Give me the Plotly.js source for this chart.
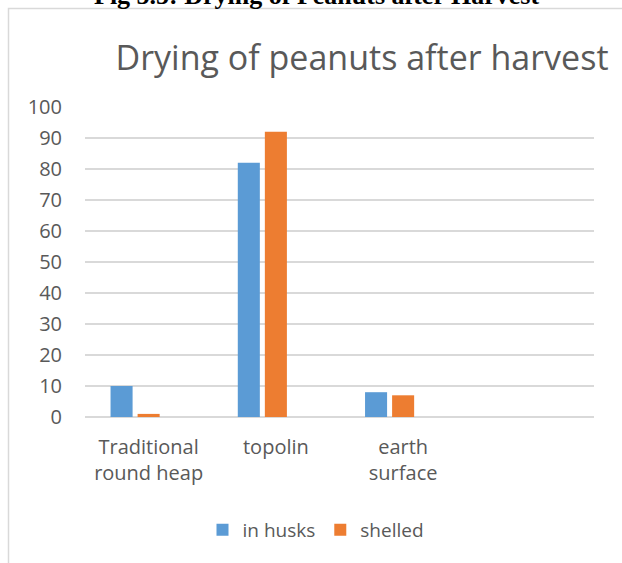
<!DOCTYPE html>
<html>
<head>
<meta charset="utf-8">
<script src="https://cdn.plot.ly/plotly-3.0.1.min.js"></script>
<style>html,body{margin:0;padding:0;background:#fff;}#chart{width:622px;height:563px;}</style>
</head>
<body>
<div id="chart"></div>
<script>
const categories = ["Traditional<br>round heap", "topolin", "earth<br>surface"];
const inHusks = [10, 82, 8];
const shelled = [1, 92, 7];
const emptySeries = [null, null, null];
const seriesNames = ["in husks", "shelled"];
const yTicks = [0, 10, 20, 30, 40, 50, 60, 70, 80, 90, 100];
const chartTitle = "Drying of peanuts after harvest";
const figCaption = "Fig 5.5: Drying of Peanuts after Harvest";

const W = 622, H = 563;
const L = 85, R = 594, T = 107, B = 417;
const pw = R - L, ph = B - T;
const px = x => (x - L) / pw;
const py = y => (B - y) / ph;

const font = {family: "Open Sans, sans-serif", color: "#595959", size: 19};

const traces = [
  {type: "bar", x: categories, y: inHusks, name: seriesNames[0], marker: {color: "#5b9bd5"}, hoverinfo: "none"},
  {type: "bar", x: categories, y: shelled, name: seriesNames[1], marker: {color: "#ed7d31"}, hoverinfo: "none"},
  {type: "bar", x: categories, y: emptySeries, name: "", showlegend: false, marker: {color: "#a5a5a5"}, hoverinfo: "none"}
];

const layout = {
  width: W, height: H,
  margin: {l: L, r: W - R, t: T, b: H - B, pad: 0, autoexpand: false},
  paper_bgcolor: "#fff", plot_bgcolor: "#fff",
  font: font,
  barmode: "group", bargap: 0.362, bargroupgap: 0.185,
  showlegend: true,
  title: {
    text: chartTitle,
    font: {family: "Open Sans, sans-serif", size: 34, color: "#595959"},
    x: 362 / W, xanchor: "center", xref: "container",
    y: 1 - 58 / H, yanchor: "middle", yref: "container"
  },
  xaxis: {
    type: "category", range: [-0.5, 3.5], fixedrange: true, automargin: false,
    showgrid: false, zeroline: false, showline: false, ticks: "", tickangle: 0,
    ticklabelstandoff: 16,
    tickfont: {family: "Open Sans, sans-serif", size: 20, color: "#595959"}
  },
  yaxis: {
    range: [0, 100], tickvals: yTicks, ticktext: yTicks.map(String), automargin: false,
    showgrid: true, gridcolor: "#d9d9d9", gridwidth: 1.5,
    zeroline: true, zerolinecolor: "#d9d9d9", zerolinewidth: 1.5,
    showline: false, ticks: "", ticklabelstandoff: 22,
    tickfont: {family: "Open Sans, sans-serif", size: 20, color: "#595959"}
  },
  legend: {
    orientation: "h", x: px(316), xanchor: "center",
    y: py(530), yanchor: "middle",
    font: {family: "Open Sans, sans-serif", size: 19, color: "#595959"},
    itemclick: false, itemdoubleclick: false
  },
  shapes: [
    {type: "rect", xref: "paper", yref: "paper", x0: px(8.5), x1: px(800), y0: py(700), y1: py(8.5),
     line: {color: "#d9d9d9", width: 1.5}, fillcolor: "rgba(0,0,0,0)", layer: "below"}
  ],
  annotations: [
    {text: "<b>" + figCaption + "</b>", xref: "paper", yref: "paper", x: px(316), y: py(-4),
     xanchor: "center", yanchor: "middle", showarrow: false,
     font: {family: "Liberation Serif, Times New Roman, serif", size: 26, color: "#000"}}
  ]
};

Plotly.newPlot("chart", traces, layout, {displayModeBar: false, staticPlot: true});
</script>
</body>
</html>
